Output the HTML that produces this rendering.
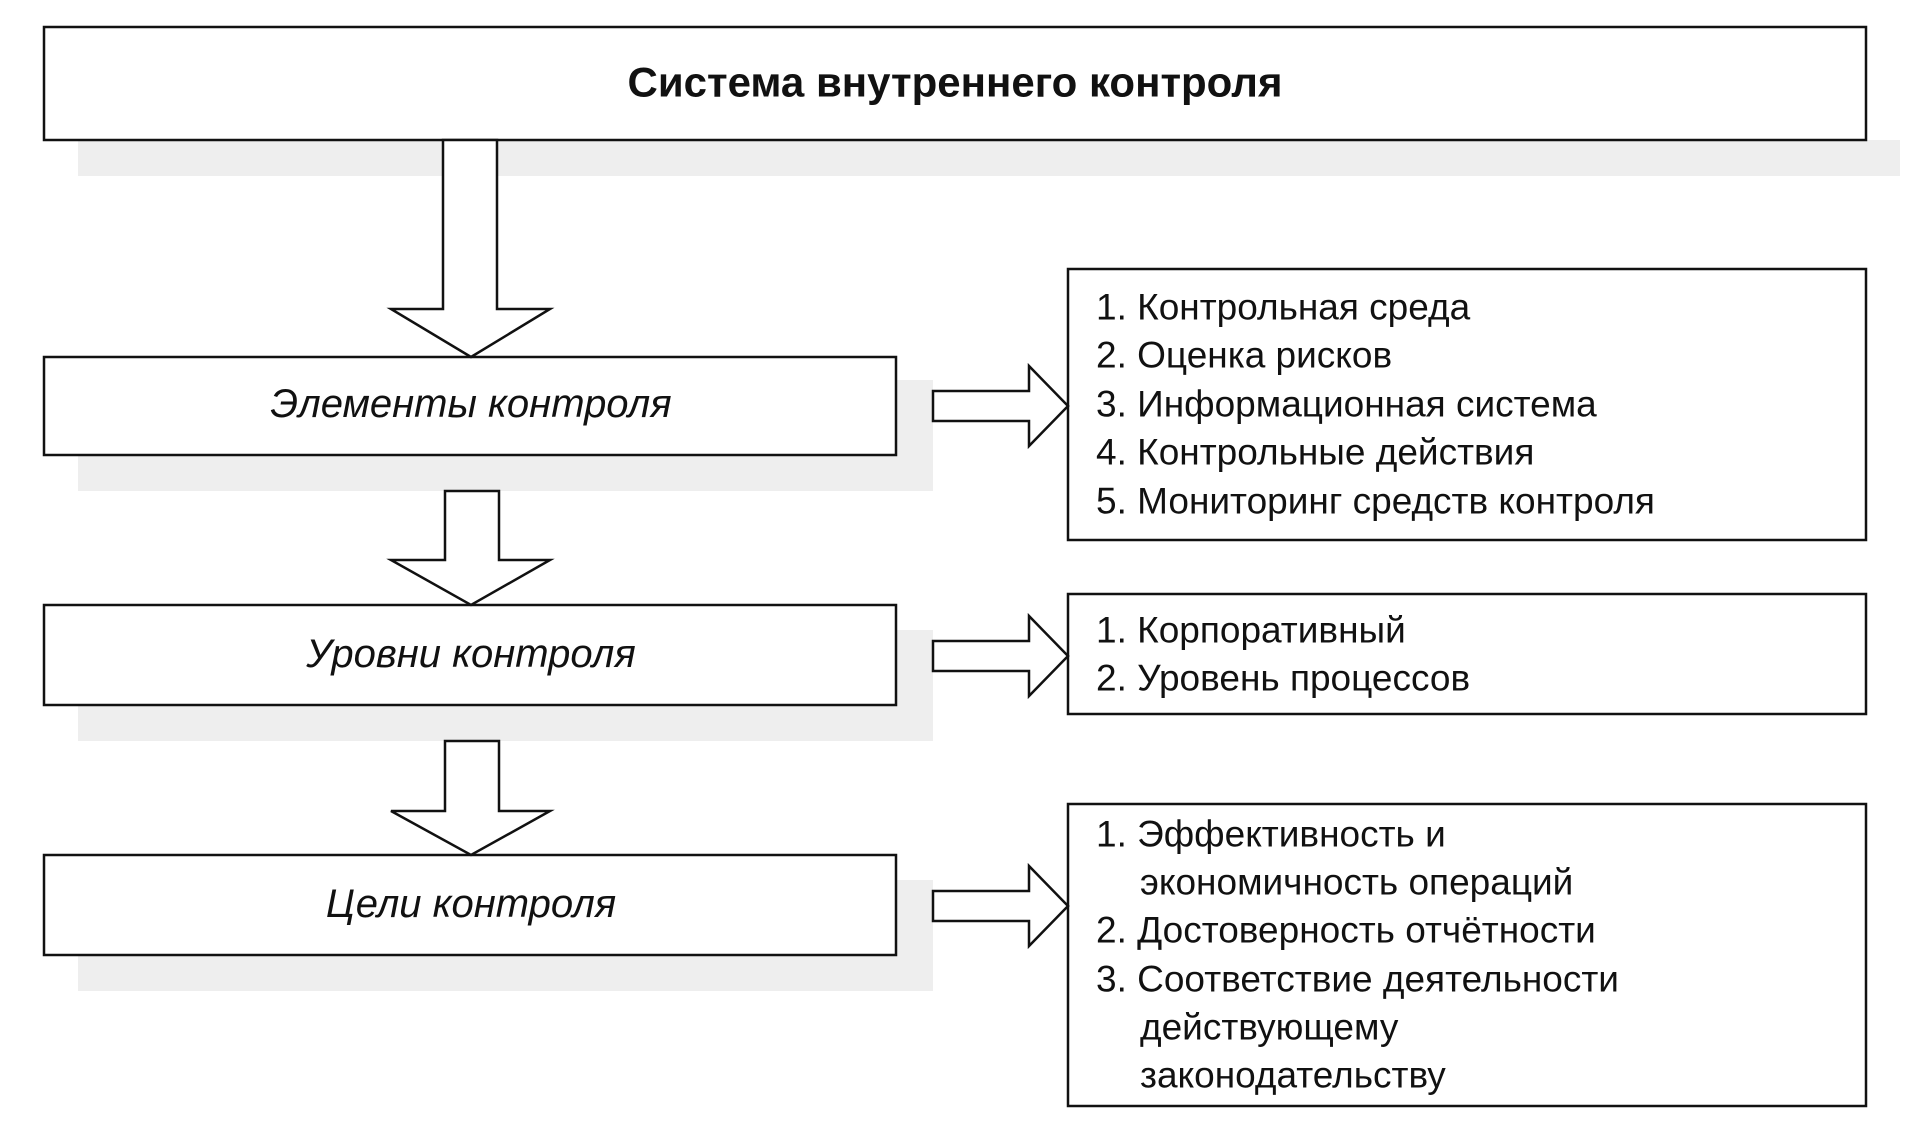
<!DOCTYPE html>
<html><head><meta charset="utf-8"><style>html,body{margin:0;padding:0;background:#fff}svg{display:block}</style></head>
<body>
<svg width="1920" height="1132" viewBox="0 0 1920 1132" xmlns="http://www.w3.org/2000/svg" font-family="Liberation Sans, Arial, sans-serif">
<g fill="#eeeeee">
<rect x="78" y="140" width="1822" height="36"/>
<rect x="78" y="455" width="855" height="36"/>
<rect x="78" y="705" width="855" height="36"/>
<rect x="78" y="955" width="855" height="36"/>
<rect x="896" y="380" width="37" height="111"/>
<rect x="896" y="630" width="37" height="111"/>
<rect x="896" y="880" width="37" height="111"/>
</g>
<g fill="#fff" stroke="#111" stroke-width="2.5">
<rect x="44" y="27" width="1822" height="113"/>
<rect x="44" y="357" width="852" height="98"/>
<rect x="44" y="605" width="852" height="100"/>
<rect x="44" y="855" width="852" height="100"/>
<rect x="1068" y="269" width="798" height="271"/>
<rect x="1068" y="594" width="798" height="120"/>
<rect x="1068" y="804" width="798" height="302"/>
<polygon points="443,140 497,140 497,309 550,309 471,357 391,309 443,309"/>
<polygon points="445,491 499,491 499,560 550,560 471,605 391,560 445,560"/>
<polygon points="445,741 499,741 499,811 550,811 471,855 391,811 445,811"/>
<polygon points="933,391 1029,391 1029,366 1068,406 1029,446 1029,421 933,421"/>
<polygon points="933,641 1029,641 1029,616 1068,656 1029,696 1029,671 933,671"/>
<polygon points="933,891 1029,891 1029,866 1068,906 1029,946 1029,921 933,921"/>
</g>
<g fill="#111" dominant-baseline="central">
<text x="955" y="82" font-size="42" font-weight="bold" text-anchor="middle">Система внутреннего контроля</text>
<g font-size="40" font-style="italic" text-anchor="middle">
<text x="471" y="404">Элементы контроля</text>
<text x="471" y="654">Уровни контроля</text>
<text x="471" y="904">Цели контроля</text>
</g>
<g font-size="37">
<text x="1096" y="307">1. Контрольная среда</text>
<text x="1096" y="355">2. Оценка рисков</text>
<text x="1096" y="404">3. Информационная система</text>
<text x="1096" y="452">4. Контрольные действия</text>
<text x="1096" y="501">5. Мониторинг средств контроля</text>
<text x="1096" y="630">1. Корпоративный</text>
<text x="1096" y="678">2. Уровень процессов</text>
<text x="1096" y="834">1. Эффективность и</text>
<text x="1140" y="882">экономичность операций</text>
<text x="1096" y="930">2. Достоверность отчётности</text>
<text x="1096" y="979">3. Соответствие деятельности</text>
<text x="1140" y="1027">действующему</text>
<text x="1140" y="1075">законодательству</text>
</g>
</g>
</svg>
</body></html>
